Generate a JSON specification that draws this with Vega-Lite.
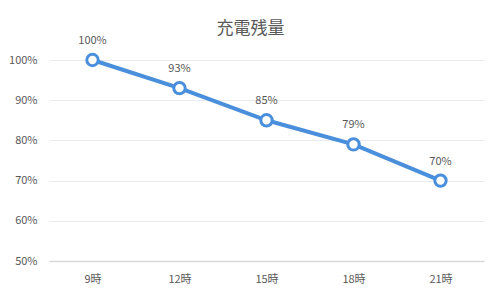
{
  "$schema": "https://vega.github.io/schema/vega-lite/v6.json",
  "width": 435,
  "height": 201,
  "autosize": {"type": "none"},
  "padding": {"left": 49, "top": 60, "right": 16, "bottom": 39},
  "background": "white",
  "title": {
    "text": "充電残量",
    "font": "Noto Sans CJK JP",
    "fontSize": 17,
    "fontWeight": "normal",
    "color": "#595959",
    "anchor": "middle",
    "dx": -16,
    "offset": -3
  },
  "config": {
    "view": {"stroke": null},
    "font": "Noto Sans CJK JP"
  },
  "data": {
    "values": [
      {"time": "9時", "value": 1.00},
      {"time": "12時", "value": 0.93},
      {"time": "15時", "value": 0.85},
      {"time": "18時", "value": 0.79},
      {"time": "21時", "value": 0.70}
    ]
  },
  "encoding": {
    "x": {
      "field": "time",
      "type": "ordinal",
      "sort": null,
      "scale": {"type": "point", "padding": 0.5},
      "axis": {
        "title": null,
        "labelAngle": 0,
        "labelFontSize": 11,
        "labelColor": "#595959",
        "labelPadding": 12,
        "ticks": false,
        "domain": true,
        "domainColor": "#d9d9d9",
        "domainWidth": 1.5,
        "grid": false
      }
    },
    "y": {
      "field": "value",
      "type": "quantitative",
      "scale": {"domain": [0.5, 1.0], "nice": false, "zero": false},
      "axis": {
        "title": null,
        "format": ".0%",
        "values": [0.5, 0.6, 0.7, 0.8, 0.9, 1.0],
        "labelFontSize": 11,
        "labelColor": "#595959",
        "labelPadding": 12,
        "ticks": false,
        "domain": false,
        "grid": true,
        "gridColor": "#ebebeb",
        "gridWidth": 1
      }
    }
  },
  "layer": [
    {
      "mark": {"type": "line", "color": "#4a8fdb", "strokeWidth": 4}
    },
    {
      "mark": {"type": "point", "shape": "circle", "filled": true, "fill": "white", "stroke": "#4a8fdb", "strokeWidth": 3, "size": 130, "opacity": 1}
    },
    {
      "mark": {"type": "text", "dy": -19, "fontSize": 11, "color": "#595959"},
      "encoding": {
        "text": {"field": "value", "type": "quantitative", "format": ".0%"}
      }
    }
  ]
}
